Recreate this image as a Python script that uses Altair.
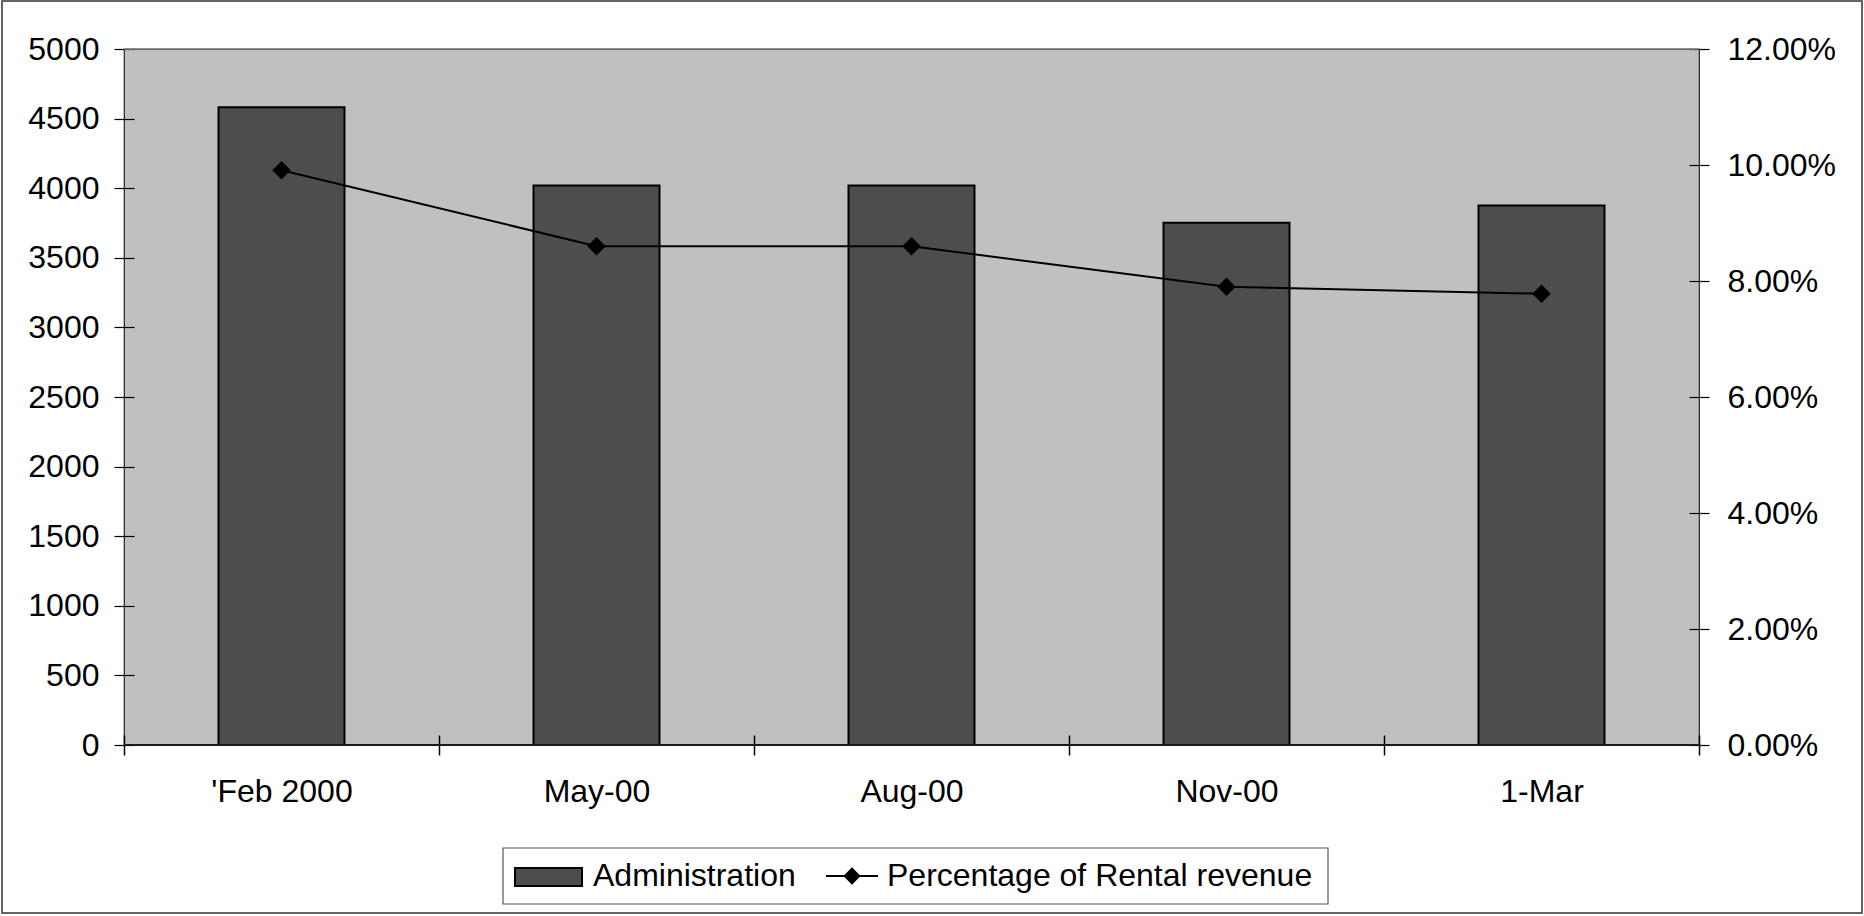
import altair as alt
import pandas as pd

# Quarterly administration cost and its share of rental revenue
months = ["'Feb 2000", "May-00", "Aug-00", "Nov-00", "1-Mar"]
administration = [4582, 4020, 4020, 3752, 3875]
rental_pct = [0.0991, 0.0860, 0.0860, 0.0790, 0.0778]

left_ticks = list(range(0, 5001, 500))
right_ticks = [0.0, 0.02, 0.04, 0.06, 0.08, 0.10, 0.12]

df = pd.DataFrame({"month": months, "admin": administration, "pct": rental_pct})
one = pd.DataFrame({"k": [0]})

W, H = 1575, 696
FONT = "Liberation Sans"
FS = 32

x_axis = alt.Axis(
    labelAngle=0, tickBand="extent", offset=-10, tickSize=20, domain=False,
    labelPadding=21, labelFontSize=FS, labelFont=FONT, labelColor="black",
    tickColor="black", tickWidth=1.5, grid=False,
)
x_enc = alt.X("month:N", sort=months, title=None,
              scale=alt.Scale(paddingInner=0, paddingOuter=0), axis=x_axis)

bars = alt.Chart(df).mark_bar(
    width=alt.RelativeBandSize(0.4), fill="#4D4D4D", stroke="black", strokeWidth=2
).encode(
    x=x_enc,
    y=alt.Y("admin:Q", title=None,
            scale=alt.Scale(domain=[0, 5000], nice=False, zero=True),
            axis=alt.Axis(values=left_ticks, format="d", offset=-10, tickSize=20,
                          domain=False, labelPadding=15, labelFontSize=FS, labelFont=FONT,
                          labelColor="black", tickColor="black", tickWidth=1.2, grid=False)),
)

line = alt.Chart(df).mark_line(
    color="black", strokeWidth=2,
    point=alt.OverlayMarkDef(shape="diamond", size=340, filled=True, color="black"),
).encode(
    x=x_enc,
    y=alt.Y("pct:Q", title=None,
            scale=alt.Scale(domain=[0, 0.12], nice=False),
            axis=alt.Axis(orient="right", values=right_ticks, format=".2%", offset=-10,
                          tickSize=20, domain=False, labelPadding=18, labelFontSize=FS,
                          labelFont=FONT, labelColor="black", tickColor="black",
                          tickWidth=1.2, grid=False)),
)

# plot frame: grey top edge, heavier category axis line
top_edge = alt.Chart(one).mark_rule(color="#808080", strokeWidth=1.5).encode(
    x=alt.value(0), x2=alt.value(W), y=alt.value(0)
)
base_line = alt.Chart(one).mark_rule(color="#1a1a1a", strokeWidth=2).encode(
    x=alt.value(0), x2=alt.value(W), y=alt.value(H)
)

# outer chart border
frame = alt.Chart(one).mark_rect(fillOpacity=0, stroke="#333333", strokeWidth=1.5).encode(
    x=alt.value(-122), x2=alt.value(1738), y=alt.value(-48), y2=alt.value(864)
)

# legend
leg_box = alt.Chart(one).mark_rect(fill="white", stroke="#555555", strokeWidth=1.2).encode(
    x=alt.value(379), x2=alt.value(1204), y=alt.value(799), y2=alt.value(855)
)
leg_swatch = alt.Chart(one).mark_rect(fill="#4D4D4D", stroke="black", strokeWidth=2).encode(
    x=alt.value(391), x2=alt.value(458), y=alt.value(819), y2=alt.value(837)
)
leg_text1 = alt.Chart(one).mark_text(
    align="left", baseline="middle", fontSize=FS, font=FONT, color="black"
).encode(x=alt.value(469), y=alt.value(827), text=alt.value("Administration"))
leg_line = alt.Chart(one).mark_rule(color="black", strokeWidth=2).encode(
    x=alt.value(702), x2=alt.value(754), y=alt.value(827)
)
leg_point = alt.Chart(one).mark_point(
    shape="diamond", size=300, filled=True, color="black", opacity=1
).encode(x=alt.value(728), y=alt.value(827))
leg_text2 = alt.Chart(one).mark_text(
    align="left", baseline="middle", fontSize=FS, font=FONT, color="black"
).encode(x=alt.value(763), y=alt.value(827), text=alt.value("Percentage of Rental revenue"))

chart = alt.layer(
    bars, line, top_edge, base_line, frame,
    leg_box, leg_swatch, leg_text1, leg_line, leg_point, leg_text2,
).resolve_scale(y="independent").properties(
    width=W, height=H,
    autosize=alt.AutoSizeParams(type="none"),
    padding={"left": 124, "top": 49, "right": 165, "bottom": 171},
).configure(background="white").configure_view(
    fill="#C0C0C0", stroke="#222222", strokeWidth=1.2
)

chart.save("out.html", embed_options={"renderer": "svg", "actions": False})
